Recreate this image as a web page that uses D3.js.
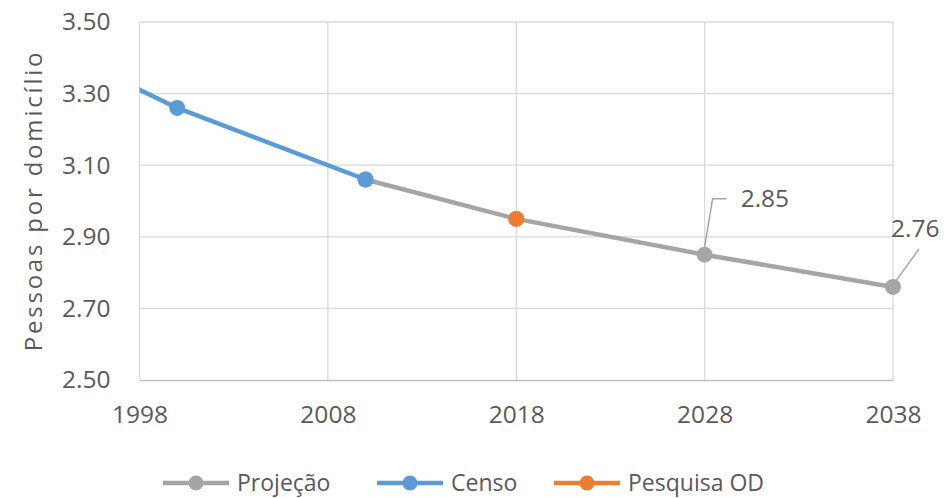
<!DOCTYPE html>
<html>
<head>
<meta charset="utf-8">
<script src="https://cdn.jsdelivr.net/npm/d3@7"></script>
<style>
  html, body { margin: 0; padding: 0; background: #fff; }
  svg { display: block; }
  text { font-family: "Open Sans", "Noto Sans", sans-serif; fill: #595959; }
</style>
</head>
<body>
<script>
// Pessoas por domicílio: census values, survey value and projection
const xTicks = [1998, 2008, 2018, 2028, 2038];
const yTicks = [2.5, 2.7, 2.9, 3.1, 3.3, 3.5];

const projYears  = [2010, 2018, 2028, 2038];
const projValues = [3.06, 2.95, 2.85, 2.76];

const censoYears  = [1991, 2000, 2010];
const censoValues = [3.49, 3.26, 3.06];

const odYears  = [2018];
const odValues = [2.95];

const labelledYears = [2028, 2038];
const seriesNames = ["Projeção", "Censo", "Pesquisa OD"];
const seriesColors = ["#A5A5A5", "#5B9BD5", "#ED7D31"];

const W = 951, H = 498;
const margin = { left: 139.5, right: 58, top: 22, bottom: 118 };

const svg = d3.select("body").append("svg")
  .attr("width", W).attr("height", H);

const x = d3.scaleLinear().domain([1998, 2038]).range([margin.left, W - margin.right]);
const y = d3.scaleLinear().domain([2.5, 3.5]).range([H - margin.bottom, margin.top]);

// gridlines
const grid = svg.append("g");
grid.selectAll("line.h").data(yTicks.slice(1)).join("line")
  .attr("x1", x(1998)).attr("x2", x(2038))
  .attr("y1", d => y(d)).attr("y2", d => y(d))
  .attr("stroke", "#D9D9D9").attr("stroke-width", 1.3);
grid.selectAll("line.v").data(xTicks).join("line")
  .attr("x1", d => x(d)).attr("x2", d => x(d))
  .attr("y1", y(2.5)).attr("y2", y(3.5))
  .attr("stroke", "#D9D9D9").attr("stroke-width", 1.3);

// x axis
const xAxis = svg.append("g")
  .attr("transform", `translate(0,${y(2.5)})`)
  .call(d3.axisBottom(x).tickValues(xTicks).tickFormat(d3.format("d")).tickSize(0).tickPadding(26));
xAxis.select(".domain").attr("stroke", "#BFBFBF").attr("stroke-width", 1.5);
xAxis.selectAll("text").attr("font-size", 24.5).attr("fill", "#595959")
  .attr("font-family", "'Open Sans', sans-serif");

// y axis
const yAxis = svg.append("g")
  .attr("transform", `translate(${x(1998)},0)`)
  .call(d3.axisLeft(y).tickValues(yTicks).tickFormat(d3.format(".2f")).tickSize(0).tickPadding(29));
yAxis.select(".domain").remove();
yAxis.selectAll("text").attr("font-size", 24.5).attr("fill", "#595959")
  .attr("font-family", "'Open Sans', sans-serif");

// y axis title
svg.append("text")
  .attr("transform", `translate(42,${(48 + 353) / 2}) rotate(-90)`)
  .attr("text-anchor", "middle")
  .attr("font-size", 24)
  .attr("letter-spacing", 2.8)
  .text("Pessoas por domicílio");

// clip to the plot area
svg.append("clipPath").attr("id", "plot-clip")
  .append("rect")
  .attr("x", x(1998)).attr("y", y(3.5) - 12)
  .attr("width", x(2038) - x(1998) + 12).attr("height", y(2.5) - y(3.5) + 24);

const plot = svg.append("g").attr("clip-path", "url(#plot-clip)");
const lineGen = d3.line().x(d => x(d[0])).y(d => y(d[1]));

function drawSeries(years, values, color) {
  const pts = years.map((yr, i) => [yr, values[i]]);
  plot.append("path").datum(pts)
    .attr("d", lineGen)
    .attr("fill", "none").attr("stroke", color)
    .attr("stroke-width", 4.5).attr("stroke-linejoin", "round");
  plot.selectAll(null).data(pts).join("circle")
    .attr("cx", d => x(d[0])).attr("cy", d => y(d[1]))
    .attr("r", 8).attr("fill", color);
}
drawSeries(projYears, projValues, seriesColors[0]);
drawSeries(censoYears, censoValues, seriesColors[1]);
drawSeries(odYears, odValues, seriesColors[2]);

// data labels with leader lines
const fmt = d3.format(".2f");
const labelSpecs = {
  2028: { leader: [[0, -8], [8, -56], [22, -56]], text: [36, -56], anchor: "start" },
  2038: { leader: [[3, -6], [26, -38]], text: [-2, -58], anchor: "start" }
};
labelledYears.forEach(yr => {
  const i = projYears.indexOf(yr);
  const px = x(yr), py = y(projValues[i]);
  const s = labelSpecs[yr];
  svg.append("path")
    .attr("d", d3.line()(s.leader.map(p => [px + p[0], py + p[1]])))
    .attr("fill", "none").attr("stroke", "#A5A5A5").attr("stroke-width", 1.5);
  svg.append("text")
    .attr("x", px + s.text[0]).attr("y", py + s.text[1])
    .attr("dy", "0.35em")
    .attr("text-anchor", s.anchor)
    .attr("font-size", 24.5)
    .text(fmt(projValues[i]));
});

// legend
const legendX = [163, 377, 554];
const legend = svg.append("g").attr("transform", "translate(0,483)");
seriesNames.forEach((name, i) => {
  const g = legend.append("g").attr("transform", `translate(${legendX[i]},0)`);
  g.append("line").attr("x1", 0).attr("x2", 66).attr("y1", 0).attr("y2", 0)
    .attr("stroke", seriesColors[i]).attr("stroke-width", 4.5);
  g.append("circle").attr("cx", 33).attr("cy", 0).attr("r", 7.5).attr("fill", seriesColors[i]);
  g.append("text").attr("x", 74).attr("y", 0).attr("dy", "0.35em")
    .attr("font-size", 23).text(name);
});
</script>
</body>
</html>
